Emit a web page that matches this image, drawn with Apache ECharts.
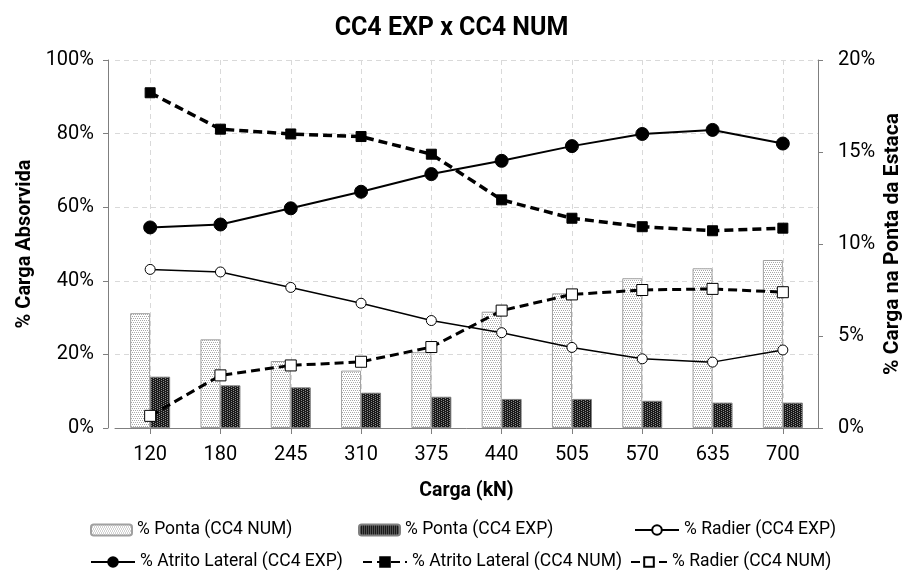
<!DOCTYPE html>
<html><head><meta charset="utf-8">
<script src="https://cdn.jsdelivr.net/npm/echarts@6/dist/echarts.min.js"></script>
<style>html,body{margin:0;padding:0;background:#fff}#c{width:903px;height:570px}</style>
</head><body><div id="c"></div>
<script>
var categories = ['120','180','245','310','375','440','505','570','635','700'];
var pontaNum = [6.24, 4.82, 3.64, 3.12, 4.12, 6.32, 7.32, 8.14, 8.68, 9.13];
var pontaExp = [2.79, 2.32, 2.21, 1.92, 1.70, 1.58, 1.58, 1.48, 1.38, 1.38];
var radierExp = [43.1, 42.4, 38.2, 33.9, 29.2, 25.9, 21.9, 18.8, 17.9, 21.2];
var atritoExp = [54.5, 55.3, 59.7, 64.2, 69.0, 72.6, 76.6, 79.9, 81.0, 77.3];
var atritoNum = [91.1, 81.2, 79.9, 79.2, 74.4, 62.0, 57.0, 54.7, 53.6, 54.3];
var radierNum = [3.3, 14.3, 17.0, 18.0, 22.0, 31.9, 36.3, 37.5, 37.8, 36.9];
var leftTicks = {min: 0, max: 100, interval: 20};
var rightTicks = {min: 0, max: 20, interval: 5};

function pattern(bg, fg, pts) {
  var c = document.createElement('canvas'); c.width = 4; c.height = 4;
  var g = c.getContext('2d'); g.fillStyle = bg; g.fillRect(0, 0, 4, 4);
  g.fillStyle = fg; pts.forEach(function (p) { g.fillRect(p[0], p[1], 1, 1); });
  return {image: c, repeat: 'repeat'};
}
var lightPat = pattern('#ffffff', '#a8a8a8', [[0,0],[2,0],[1,2],[3,2]]);
var darkPat = pattern('#1a1a1a', '#8a8a8a', [[1,0],[3,1],[1,2],[3,3]]);

var FONT = 'Roboto, "Noto Sans", sans-serif';
var chart = echarts.init(document.getElementById('c'), null, {renderer: 'canvas'});
var names = ['% Ponta (CC4 NUM)', '% Ponta (CC4 EXP)', '% Radier (CC4 EXP)', '% Atrito Lateral (CC4 EXP)', '% Atrito Lateral (CC4 NUM)', '% Radier (CC4 NUM)'];
var legendPos = [[85, 516], [353, 516], [629, 516], [85, 548], [357, 548], [625, 548]];
var legends = names.map(function (n, i) {
  return {data: [n], left: legendPos[i][0], top: legendPos[i][1],
    itemWidth: i < 2 ? 41 : (i === 5 ? 36 : 44), itemHeight: i < 2 ? 11 : 12, itemGap: 4,
    textStyle: {fontFamily: FONT, fontSize: 17.5, color: '#000'}};
});
chart.setOption({
  animation: false,
  textStyle: {fontFamily: FONT},
  title: {text: 'CC4 EXP x CC4 NUM', left: 'center', top: 11, textStyle: {fontFamily: FONT, fontWeight: 'bold', fontSize: 25, color: '#000'}},
  legend: legends,
  grid: {left: 115, right: 85, top: 60, bottom: 142, outerBoundsMode: 'none', containLabel: false},
  xAxis: {
    type: 'category', data: categories,
    name: 'Carga (kN)', nameLocation: 'middle', nameGap: 53,
    nameTextStyle: {fontFamily: FONT, fontWeight: 'bold', fontSize: 19.5, color: '#000'},
    axisLine: {lineStyle: {color: '#7f7f7f', width: 1}},
    axisTick: {show: true, alignWithLabel: true, length: 6, lineStyle: {color: '#7f7f7f'}},
    axisLabel: {fontFamily: FONT, fontSize: 20, color: '#000', margin: 17},
    splitLine: {show: true, alignWithLabel: true, lineStyle: {color: '#d9d9d9', type: [5, 4]}}
  },
  yAxis: [{
    type: 'value', min: leftTicks.min, max: leftTicks.max, interval: leftTicks.interval, offset: 7,
    name: '% Carga Absorvida', nameLocation: 'middle', nameGap: 73, nameRotate: 90, nameMoveOverlap: false,
    nameTextStyle: {fontFamily: FONT, fontWeight: 'bold', fontSize: 20, color: '#000'},
    axisLine: {show: true, lineStyle: {color: '#7f7f7f'}},
    axisTick: {show: true, length: 5, lineStyle: {color: '#7f7f7f'}},
    axisLabel: {formatter: '{value}%', fontFamily: FONT, fontSize: 20, color: '#000', margin: 14},
    splitLine: {show: true, lineStyle: {color: '#d9d9d9', type: [5, 4]}}
  }, {
    type: 'value', min: rightTicks.min, max: rightTicks.max, interval: rightTicks.interval, position: 'right',
    name: '% Carga na Ponta da Estaca', nameLocation: 'middle', nameGap: 64, nameRotate: 90, nameMoveOverlap: false,
    nameTextStyle: {fontFamily: FONT, fontWeight: 'bold', fontSize: 21, color: '#000'},
    axisLine: {show: true, lineStyle: {color: '#7f7f7f'}},
    axisTick: {show: true, length: 5, lineStyle: {color: '#7f7f7f'}},
    axisLabel: {formatter: '{value}%', fontFamily: FONT, fontSize: 20, color: '#000', margin: 20},
    splitLine: {show: false}
  }],
  series: [
    {name: names[0], type: 'bar', yAxisIndex: 1, data: pontaNum, barWidth: 20, barGap: '0%',
      itemStyle: {color: lightPat, borderColor: '#a0a0a0', borderWidth: 1}},
    {name: names[1], type: 'bar', yAxisIndex: 1, data: pontaExp, barWidth: 20, barGap: '0%',
      itemStyle: {color: darkPat, borderColor: '#808080', borderWidth: 1}},
    {name: names[2], type: 'line', data: radierExp, symbol: 'circle', symbolSize: 10, z: 5,
      lineStyle: {color: '#000', width: 1.5}, itemStyle: {color: '#fff', borderColor: '#000', borderWidth: 1}},
    {name: names[3], type: 'line', data: atritoExp, symbol: 'circle', symbolSize: 13, z: 5,
      lineStyle: {color: '#000', width: 2}, itemStyle: {color: '#000', borderColor: '#000', borderWidth: 1}},
    {name: names[4], type: 'line', data: atritoNum, symbol: 'rect', symbolSize: 10, z: 5,
      lineStyle: {color: '#000', width: 3.5, type: [9, 5]}, itemStyle: {color: '#000', borderColor: '#000', borderWidth: 1}},
    {name: names[5], type: 'line', data: radierNum, symbol: 'rect', symbolSize: 11, z: 5,
      lineStyle: {color: '#000', width: 3, type: [9, 5]}, itemStyle: {color: '#fff', borderColor: '#000', borderWidth: 1}}
  ]
});
</script></body></html>
